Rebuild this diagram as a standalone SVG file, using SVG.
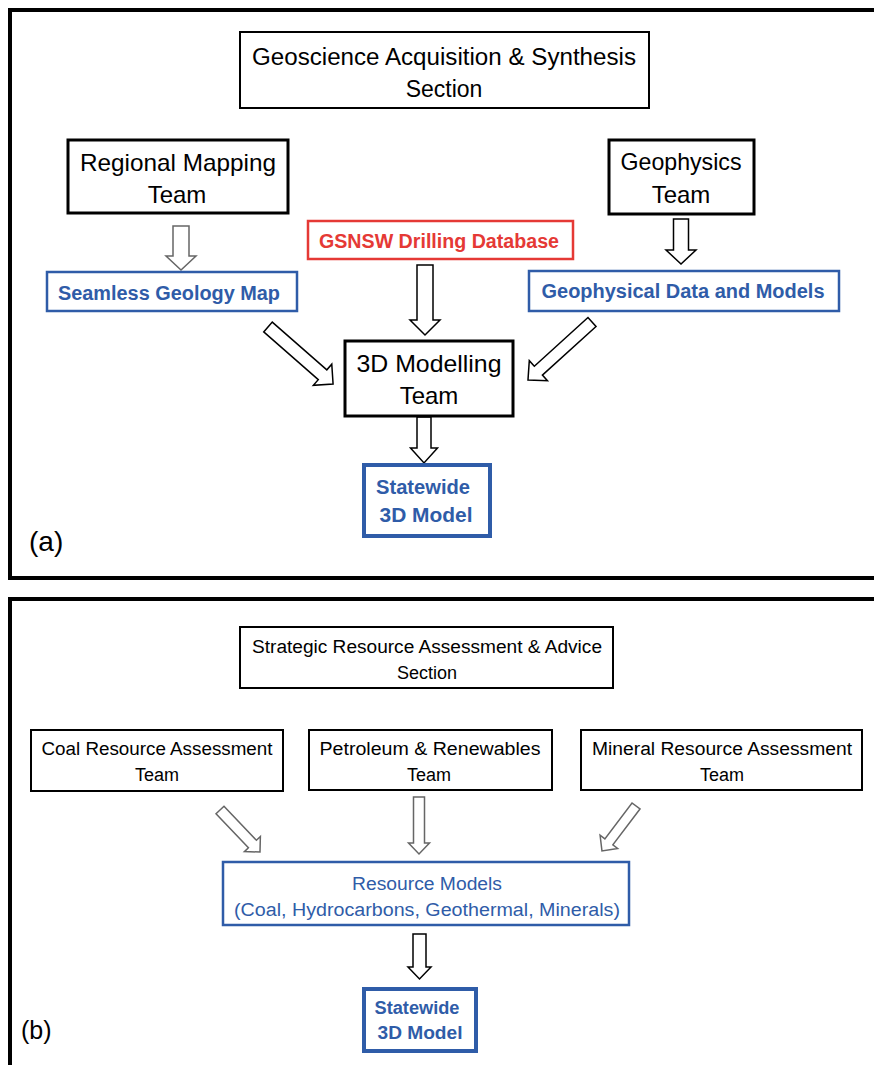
<svg xmlns="http://www.w3.org/2000/svg" width="874" height="1065" viewBox="0 0 874 1065">
<style>
text{font-family:"Liberation Sans",Arial,sans-serif;text-anchor:middle}
.frame{fill:none;stroke:#000;stroke-width:4}
.bk{fill:#fff;stroke:#000;stroke-width:3}
.bk2{fill:#fff;stroke:#000;stroke-width:2}
.bl{fill:#fff;stroke:#2F5CA8;stroke-width:2.5}
.bl3{fill:#fff;stroke:#2F5CA8;stroke-width:4}
.rd{fill:#fff;stroke:#E53935;stroke-width:2.5}
.ta{font-size:23px;fill:#000}
.tt{font-size:24px;fill:#000}
.tb{font-size:20px;fill:#2F5CA8;font-weight:bold}
.tr{font-size:20px;fill:#E53935;font-weight:bold}
.ts{font-size:18px;fill:#000}
.tsb{font-size:18px;fill:#2F5CA8}
.lab{font-size:28px;fill:#000;text-anchor:start}
.arr{fill:#fff;stroke:#000;stroke-width:1.5;stroke-linejoin:miter}
.arrg{fill:#fff;stroke:#666;stroke-width:1.5}
</style>
<rect width="874" height="1065" fill="#fff"/>
<rect class="frame" x="10" y="10" width="900" height="568"/>
<rect class="frame" x="10" y="599" width="900" height="500"/>

<g id="connectors">
<polygon class="arrg" transform="translate(181,226) rotate(90)" points="0,-8 30,-8 30,-15 44,0 30,15 30,8 0,8"/>
<polygon class="arr" transform="translate(425,265) rotate(90)" points="0,-8 55,-8 55,-15 70,0 55,15 55,8 0,8"/>
<polygon class="arr" transform="translate(681,219) rotate(90)" points="0,-7.5 31,-7.5 31,-15 45,0 31,15 31,7.5 0,7.5"/>
<polygon class="arr" transform="translate(268,327) rotate(41.2)" points="0,-6.5 72.5,-6.5 72.5,-14 86.5,0 72.5,14 72.5,6.5 0,6.5"/>
<polygon class="arr" transform="translate(592,322) rotate(137.8)" points="0,-6 72.4,-6 72.4,-13.5 86.4,0 72.4,13.5 72.4,6 0,6"/>
<polygon class="arr" transform="translate(424,417) rotate(90)" points="0,-7 31,-7 31,-13.5 46,0 31,13.5 31,7 0,7"/>
<polygon class="arrg" transform="translate(220,810) rotate(46.4)" points="0,-5.5 47,-5.5 47,-11 58,0 47,11 47,5.5 0,5.5"/>
<polygon class="arrg" transform="translate(419,797) rotate(90)" points="0,-5.5 46,-5.5 46,-10.5 57,0 46,10.5 46,5.5 0,5.5"/>
<polygon class="arrg" transform="translate(636,806) rotate(127.1)" points="0,-5 45,-5 45,-11 56.4,0 45,11 45,5 0,5"/>
<polygon class="arr" transform="translate(419.5,934) rotate(90)" points="0,-6.5 33,-6.5 33,-11.5 45,0 33,11.5 33,6.5 0,6.5"/>
</g>

<g id="title-a">
<rect class="bk2" x="240" y="32" width="409" height="76"/>
<text class="ta" x="444" y="65" textLength="384" lengthAdjust="spacingAndGlyphs">Geoscience Acquisition &amp; Synthesis</text>
<text class="ta" x="444" y="97">Section</text>
</g>
<g id="regional">
<rect class="bk" x="68" y="140" width="220" height="73"/>
<text class="tt" x="178" y="171" textLength="196" lengthAdjust="spacingAndGlyphs">Regional Mapping</text>
<text class="tt" x="177" y="203">Team</text>
</g>
<g id="geophysics">
<rect class="bk" x="609" y="140" width="145" height="74"/>
<text class="tt" x="681" y="170" textLength="121" lengthAdjust="spacingAndGlyphs">Geophysics</text>
<text class="tt" x="681" y="203">Team</text>
</g>
<g id="drilling">
<rect class="rd" x="308" y="221" width="265" height="38"/>
<text class="tr" x="439" y="248" textLength="240" lengthAdjust="spacingAndGlyphs">GSNSW Drilling Database</text>
</g>
<g id="seamless">
<rect class="bl" x="47" y="272" width="250" height="39"/>
<text class="tb" x="169" y="300" textLength="222" lengthAdjust="spacingAndGlyphs">Seamless Geology Map</text>
</g>
<g id="geophysical">
<rect class="bl" x="529" y="271" width="310" height="40"/>
<text class="tb" x="683" y="298" textLength="283" lengthAdjust="spacingAndGlyphs">Geophysical Data and Models</text>
</g>
<g id="modelling">
<rect class="bk" x="345" y="341" width="168" height="75"/>
<text class="tt" x="429" y="372" textLength="145" lengthAdjust="spacingAndGlyphs">3D Modelling</text>
<text class="tt" x="429" y="404">Team</text>
</g>
<g id="statewide-a">
<rect class="bl3" x="364" y="465" width="126" height="71"/>
<text class="tb" x="423" y="494" textLength="94" lengthAdjust="spacingAndGlyphs">Statewide</text>
<text class="tb" x="426" y="522" textLength="93" lengthAdjust="spacingAndGlyphs">3D Model</text>
</g>
<text class="lab" x="29" y="551">(a)</text>

<g id="title-b">
<rect class="bk2" x="240" y="627" width="373" height="61"/>
<text class="ts" x="427" y="653" textLength="350" lengthAdjust="spacingAndGlyphs">Strategic Resource Assessment &amp; Advice</text>
<text class="ts" x="427" y="679">Section</text>
</g>
<g id="coal">
<rect class="bk2" x="31" y="730" width="252" height="61"/>
<text class="ts" x="157" y="755" textLength="231" lengthAdjust="spacingAndGlyphs">Coal Resource Assessment</text>
<text class="ts" x="157" y="781">Team</text>
</g>
<g id="petroleum">
<rect class="bk2" x="309" y="730" width="243" height="60"/>
<text class="ts" x="430" y="755" textLength="221" lengthAdjust="spacingAndGlyphs">Petroleum &amp; Renewables</text>
<text class="ts" x="429" y="781">Team</text>
</g>
<g id="mineral">
<rect class="bk2" x="581" y="730" width="281" height="60"/>
<text class="ts" x="722" y="755" textLength="260" lengthAdjust="spacingAndGlyphs">Mineral Resource Assessment</text>
<text class="ts" x="722" y="781">Team</text>
</g>
<g id="resource">
<rect class="bl" x="223" y="862" width="406" height="63"/>
<text class="tsb" x="427" y="890" textLength="150" lengthAdjust="spacingAndGlyphs">Resource Models</text>
<text class="tsb" x="427" y="916" textLength="386" lengthAdjust="spacingAndGlyphs">(Coal, Hydrocarbons, Geothermal, Minerals)</text>
</g>
<g id="statewide-b">
<rect class="bl3" x="364" y="989" width="112" height="62"/>
<text class="tb" x="417" y="1014" font-size="18" style="font-size:18px" textLength="85" lengthAdjust="spacingAndGlyphs">Statewide</text>
<text class="tb" x="420" y="1039" style="font-size:18px" textLength="85" lengthAdjust="spacingAndGlyphs">3D Model</text>
</g>
<text class="lab" x="21" y="1039" style="font-size:25px">(b)</text>
</svg>
